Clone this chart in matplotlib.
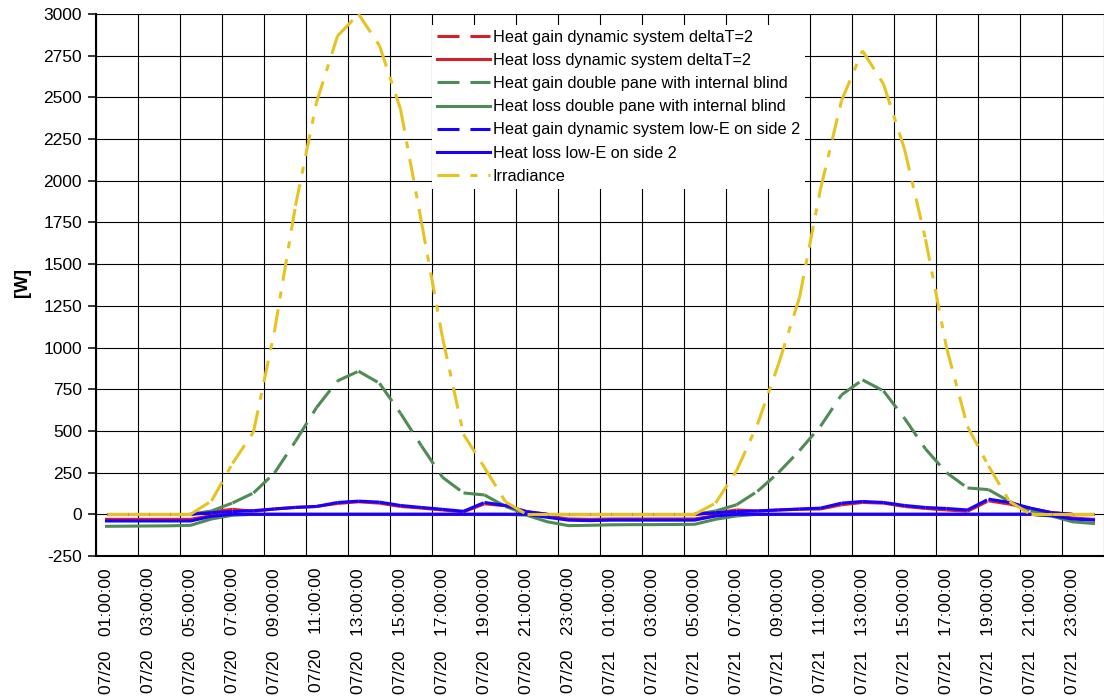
import numpy as np
import matplotlib
matplotlib.use('Agg')
import matplotlib.pyplot as plt
from matplotlib.collections import LineCollection
from matplotlib.ticker import MultipleLocator

plt.rcParams['font.family'] = ['Liberation Sans', 'DejaVu Sans']
plt.rcParams['lines.scale_dashes'] = False
plt.rcParams['axes.unicode_minus'] = False

# hourly values, 07/20 01:00 ... 07/21 24:00
hours = np.arange(48)

tick_labels = [
    '07/20   01:00:00', '07/20   03:00:00', '07/20   05:00:00', '07/20   07:00:00',
    '07/20   09:00:00', '07/20   11:00:00', '07/20   13:00:00', '07/20   15:00:00',
    '07/20   17:00:00', '07/20   19:00:00', '07/20   21:00:00', '07/20   23:00:00',
    '07/21   01:00:00', '07/21   03:00:00', '07/21   05:00:00', '07/21   07:00:00',
    '07/21   09:00:00', '07/21   11:00:00', '07/21   13:00:00', '07/21   15:00:00',
    '07/21   17:00:00', '07/21   19:00:00', '07/21   21:00:00', '07/21   23:00:00',
]

gain_dt2 = [0, 0, 0, 0, 0, 15, 30, 18, 32, 42, 47, 65, 75, 67, 47, 37, 26, 14, 63, 51, 16, 0, 0, 0,
            0, 0, 0, 0, 0, 8, 26, 20, 26, 30, 32, 57, 71, 67, 47, 35, 26, 18, 81, 61, 35, 10, 0, 0]
loss_dt2 = [-30, -30, -30, -30, -30, -8, 0, 0, 0, 0, 0, 0, 0, 0, 0, 0, 0, 0, 0, 0, 0, -12, -28, -30,
            -28, -28, -28, -28, -28, -8, 0, 0, 0, 0, 0, 0, 0, 0, 0, 0, 0, 0, 0, 0, 0, -5, -22, -30]
gain_double = [0, 0, 0, 0, 0, 20, 68, 128, 248, 438, 640, 800, 858, 786, 606, 410, 222, 128, 116, 47, 0, 0, 0, 0,
               0, 0, 0, 0, 0, 20, 57, 138, 250, 382, 528, 716, 806, 740, 576, 392, 250, 158, 148, 77, 22, 0, 0, 0]
loss_double = [-72, -71, -70, -69, -66, -28, -6, 0, 0, 0, 0, 0, 0, 0, 0, 0, 0, 0, 0, 0, -5, -45, -68, -66,
               -63, -62, -62, -61, -60, -30, -10, 0, 0, 0, 0, 0, 0, 0, 0, 0, 0, 0, 0, 0, 0, -10, -45, -55]
gain_lowe = [0, 0, 0, 0, 0, 10, 16, 22, 32, 41, 47, 71, 79, 73, 53, 41, 30, 18, 71, 53, 16, 0, 0, 0,
             0, 0, 0, 0, 0, 10, 16, 20, 26, 32, 37, 67, 77, 71, 53, 41, 35, 26, 91, 71, 37, 10, 0, 0]
loss_lowe = [-40, -40, -40, -40, -40, -12, 0, 0, 0, 0, 0, 0, 0, 0, 0, 0, 0, 0, 0, 0, 0, -18, -35, -38,
             -35, -35, -35, -35, -35, -10, 0, 0, 0, 0, 0, 0, 0, 0, 0, 0, 0, 0, 0, 0, 0, -8, -28, -35]
irradiance = [0, 0, 0, 0, 0, 80, 305, 494, 1100, 1850, 2470, 2868, 3000, 2810, 2430, 1750, 1060, 480, 280, 75, 0, 0, 0, 0,
              0, 0, 0, 0, 0, 67, 260, 540, 900, 1300, 1950, 2480, 2780, 2580, 2190, 1650, 1000, 526, 290, 77, 0, 0, 0, 0]

RED = '#d81e26'
GREEN = '#4e8c54'
BLUE = '#1a00ff'
YELLOW = '#e8c320'
LW = 2.2
DASH = (0, (15.8, 7.9))
DASHDOT = (0, (15.8, 7.9, 5.0, 7.9))


def segs(y):
    # excel restarts the dash pattern at every point, so draw each hour step on its own
    pts = np.column_stack([hours, y])
    return np.stack([pts[:-1], pts[1:]], axis=1)


fig = plt.figure(figsize=(11.04, 6.99), dpi=100)
ax = fig.add_axes([96 / 1104, 143 / 699, 1008 / 1104, 542 / 699])

series = [
    (gain_dt2, RED, DASH, 'Heat gain dynamic system deltaT=2'),
    (loss_dt2, RED, 'solid', 'Heat loss dynamic system deltaT=2'),
    (gain_double, GREEN, DASH, 'Heat gain double pane with internal blind'),
    (loss_double, GREEN, 'solid', 'Heat loss double pane with internal blind'),
    (gain_lowe, BLUE, DASH, 'Heat gain dynamic system low-E on side 2'),
    (loss_lowe, BLUE, 'solid', 'Heat loss low-E on side 2'),
    (irradiance, YELLOW, DASHDOT, 'Irradiance'),
]

handles = []
for k, (vals, col, ls, lab) in enumerate(series):
    if ls == 'solid':
        h, = ax.plot(hours, vals, color=col, lw=LW, label=lab, zorder=3 + k,
                     solid_joinstyle='round', clip_on=False)
    else:
        h = LineCollection(segs(vals), colors=col, linewidths=LW, linestyles=ls,
                           label=lab, zorder=3 + k, clip_on=False)
        ax.add_collection(h)
    handles.append(h)

ax.set_xlim(-0.5, 47.5)
ax.set_ylim(-250, 3000)
ax.yaxis.set_major_locator(MultipleLocator(250))
ax.set_xticks(hours[::2])
ax.set_xticklabels(tick_labels, rotation=90)
ax.set_xticks(np.arange(-0.5, 48, 2), minor=True)

ax.set_axisbelow(True)
ax.grid(which='major', axis='y', color='black', lw=0.8)
ax.grid(which='minor', axis='x', color='black', lw=0.8)

ax.tick_params(axis='x', which='both', length=0, pad=8.6, labelsize=12.5)
ax.tick_params(axis='y', length=6, width=1.1, pad=4, labelsize=12.5, direction='out')

for side in ['top', 'right']:
    ax.spines[side].set_visible(False)
for side in ['left', 'bottom']:
    ax.spines[side].set_linewidth(1.5)

ax.set_ylabel('[W]', fontsize=13, fontweight='bold')
ax.yaxis.set_label_coords(-65 / 1008, 0.505)

leg = ax.legend(handles=handles, loc='upper left',
                bbox_to_anchor=(432 / 1104, 1 - 25 / 699), bbox_transform=fig.transFigure,
                fontsize=11.7, handlelength=3.25, handletextpad=0.2, labelspacing=0.5,
                borderpad=0.3, borderaxespad=0, frameon=True, fancybox=False,
                edgecolor='none', facecolor='white', framealpha=1)
leg.set_zorder(20)

fig.savefig('out.png', dpi=100)
